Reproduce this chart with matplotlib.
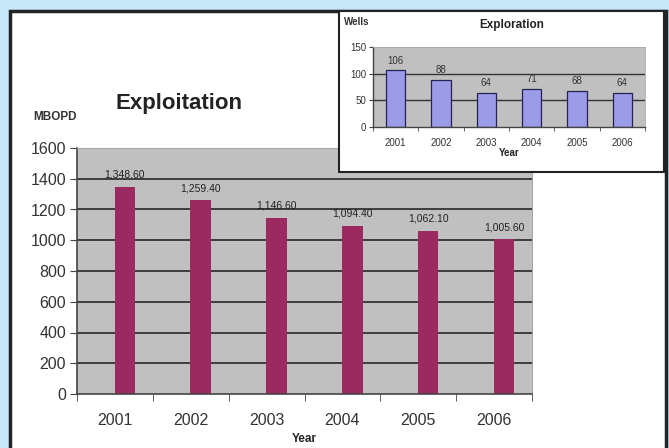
import matplotlib
matplotlib.use("Agg")
import matplotlib.pyplot as plt
import numpy as np
from matplotlib.patches import Rectangle

plt.rcParams['font.family'] = ['Liberation Sans', 'DejaVu Sans']

years = ['2001', '2002', '2003', '2004', '2005', '2006']
exploitation = [1348.60, 1259.40, 1146.60, 1094.40, 1062.10, 1005.60]
exploitation_labels = ['1,348.60', '1,259.40', '1,146.60', '1,094.40', '1,062.10', '1,005.60']
exploration = [106, 88, 64, 71, 68, 64]
main_yticks = [0, 200, 400, 600, 800, 1000, 1200, 1400, 1600]
inset_yticks = [0, 50, 100, 150]

W, H = 669, 448
fig = plt.figure(figsize=(W / 100, H / 100), dpi=100)
fig.patch.set_facecolor('#c6e7f8')

def px(x0, y0, x1, y1):
    return (x0 / W, 1 - y1 / H, (x1 - x0) / W, (y1 - y0) / H)

# white panel with dark border
l, b, w, h = px(10, 11, 666, 452)
fig.patches.append(Rectangle((l, b), w, h, transform=fig.transFigure,
                             facecolor='white', edgecolor='#222222', linewidth=2.5, zorder=-5))
# inset box
l, b, w, h = px(339, 11, 664, 172)
fig.patches.append(Rectangle((l, b), w, h, transform=fig.transFigure,
                             facecolor='white', edgecolor='#222222', linewidth=1.5, zorder=3))

grid_col = '#333333'
bg_col = '#c0c0c0'
txt_col = '#333333'

# ---------------- main axes ----------------
ax = fig.add_axes(px(77, 148, 532, 394))
ax.set_zorder(1)
ax.set_facecolor(bg_col)
x = np.arange(len(years))
ax.set_xlim(-0.5, len(years) - 0.5)
ax.set_ylim(main_yticks[0], main_yticks[-1])
for yv in main_yticks[1:-1]:
    ax.axhline(yv, color=grid_col, linewidth=1.3, zorder=1)
bars = ax.bar(x + 0.13, exploitation, width=0.27, color='#9a2a5f', zorder=2)
for xi, v, lab in zip(x, exploitation, exploitation_labels):
    ax.text(xi + 0.13, v + 45, lab, ha='center', va='bottom', fontsize=7.5, color='#222222')
ax.set_yticks(main_yticks)
ax.set_yticklabels([str(t) for t in main_yticks], fontsize=11.5, color=txt_col)
ax.set_xticks(x)
ax.set_xticklabels(years, fontsize=11.5, color=txt_col)
ax.set_xticks(np.arange(-0.5, len(years)), minor=True)
ax.tick_params(axis='x', which='major', length=0, pad=14)
ax.tick_params(axis='x', which='minor', length=5, color='#444444', direction='out')
ax.tick_params(axis='y', length=5, color='#444444', direction='out', pad=3)
for s in ['top', 'right']:
    ax.spines[s].set_color('#a8a8a8')
    ax.spines[s].set_linewidth(0.8)
for s in ['left', 'bottom']:
    ax.spines[s].set_color('#444444')
    ax.spines[s].set_linewidth(1.2)
ax.set_xlabel('Year', fontsize=8.5, fontweight='bold', color='#222222', labelpad=3)

fig.text(179 / W, 1 - 103 / H, 'Exploitation', fontsize=16, fontweight='bold',
         ha='center', va='center', color='#222222')
fig.text(33 / W, 1 - 117 / H, 'MBOPD', fontsize=8.5, fontweight='bold',
         ha='left', va='center', color='#333333')

# ---------------- inset axes ----------------
ia = fig.add_axes(px(373, 47, 645, 127))
ia.set_zorder(4)
ia.set_facecolor(bg_col)
ia.set_xlim(-0.5, len(years) - 0.5)
ia.set_ylim(inset_yticks[0], inset_yticks[-1])
for yv in inset_yticks[1:-1]:
    ia.axhline(yv, color=grid_col, linewidth=1.0, zorder=1)
ia.bar(x, exploration, width=0.42, color='#9b9be8', edgecolor='#222255', linewidth=0.9, zorder=2)
for xi, v in zip(x, exploration):
    ia.text(xi, v + 9, str(v), ha='center', va='bottom', fontsize=7, color='#333333')
ia.set_yticks(inset_yticks)
ia.set_yticklabels([str(t) for t in inset_yticks], fontsize=7, color=txt_col)
ia.set_xticks(x)
ia.set_xticklabels(years, fontsize=7, color=txt_col)
ia.set_xticks(np.arange(-0.5, len(years)), minor=True)
ia.tick_params(axis='x', which='major', length=0, pad=8)
ia.tick_params(axis='x', which='minor', length=3, color='#444444')
ia.tick_params(axis='y', length=3, color='#444444', pad=2)
for s in ['top', 'right']:
    ia.spines[s].set_color('#a8a8a8')
    ia.spines[s].set_linewidth(0.6)
for s in ['left', 'bottom']:
    ia.spines[s].set_color('#444444')
    ia.spines[s].set_linewidth(1.0)
ia.set_xlabel('Year', fontsize=7, fontweight='bold', color='#222222', labelpad=0)

fig.text(512 / W, 1 - 25 / H, 'Exploration', fontsize=8.5, fontweight='bold',
         ha='center', va='center', color='#222222', zorder=5)
fig.text(344 / W, 1 - 22 / H, 'Wells', fontsize=7, fontweight='bold',
         ha='left', va='center', color='#333333', zorder=5)

fig.savefig('out.png', dpi=100, facecolor=fig.get_facecolor())
